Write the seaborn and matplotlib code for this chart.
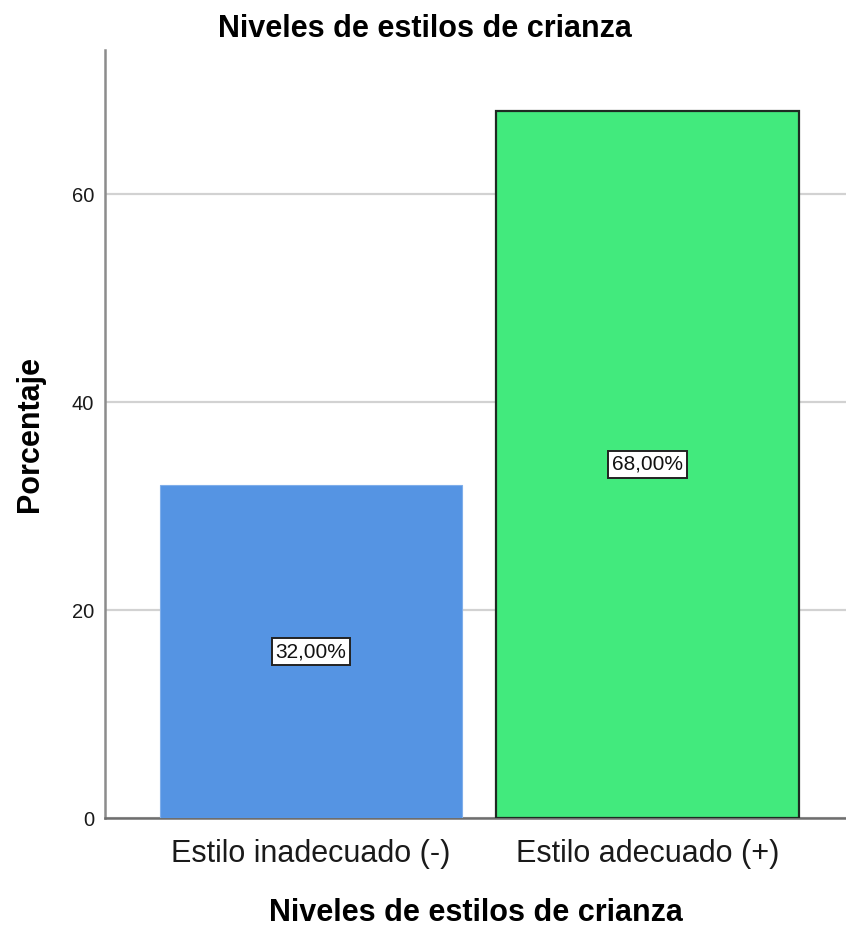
import matplotlib
matplotlib.use("Agg")
import matplotlib.pyplot as plt
import seaborn as sns
import pandas as pd

categories = ["Estilo inadecuado (-)", "Estilo adecuado (+)"]
values = [32.0, 68.0]
bar_labels = ["32,00%", "68,00%"]
yticks = [0, 20, 40, 60]
colors = ["#5594E3", "#42EA7D"]
edge_colors = ["#7FAEEA", "#1E2A22"]

sns.set_style("white")
plt.rcParams["font.family"] = ["Liberation Sans", "DejaVu Sans"]
plt.rcParams["text.color"] = "black"
plt.rcParams["axes.labelcolor"] = "black"

df = pd.DataFrame({"cat": categories, "val": values})

fig = plt.figure(figsize=(8.46, 9.30), dpi=100)
ax = fig.add_axes([105 / 846, 1 - 818 / 930, 741 / 846, 768 / 930])

sns.barplot(data=df, x="cat", y="val", hue="cat", palette=colors,
            width=0.9, legend=False, ax=ax, saturation=1, zorder=3)

for patch, ec, lw in zip(ax.patches, edge_colors, [0.8, 1.6]):
    patch.set_edgecolor(ec)
    patch.set_linewidth(lw)

for cont, lab in zip(ax.containers, bar_labels):
    ax.bar_label(cont, labels=[lab], label_type="center", fontsize=15,
                 color="#111111", zorder=5,
                 bbox=dict(boxstyle="square,pad=0.18", facecolor="white",
                           edgecolor="#222222", linewidth=1.4))

ax.set_xlim(-0.612, 1.59)
ax.set_ylim(0, 73.85)
ax.set_yticks(yticks)
ax.set_yticklabels([str(t) for t in yticks], fontsize=14.5, color="#1A1A1A")
ax.tick_params(axis="y", length=0, pad=8)
ax.tick_params(axis="x", length=0, pad=15, labelsize=22, labelcolor="#1A1A1A")

ax.yaxis.grid(True, color="#D2D2D2", linewidth=1.6, zorder=0)
ax.xaxis.grid(False)
ax.set_axisbelow(True)

for side in ["top", "right"]:
    ax.spines[side].set_visible(False)
ax.spines["left"].set_color("#8C8C8C")
ax.spines["left"].set_linewidth(1.8)
ax.spines["bottom"].set_color("#6E6E6E")
ax.spines["bottom"].set_linewidth(1.8)

ax.set_xlabel("Niveles de estilos de crianza", fontsize=22, fontweight="bold",
              color="black")
ax.xaxis.label.set_va("center")
ax.xaxis.set_label_coords(0.5, (818 - 913) / 768)

ax.set_ylabel("Porcentaje", fontsize=22, fontweight="bold", color="black")
ax.yaxis.label.set_rotation_mode("default")
ax.yaxis.label.set_va("center")
ax.yaxis.set_label_coords((30 - 105) / 741, 0.5)

ax.set_title("Niveles de estilos de crianza", fontsize=22, fontweight="bold",
             color="black", x=(425 - 105) / 741, y=(818 - 29) / 768,
             va="center", pad=0)

fig.savefig("out.png", dpi=100, facecolor="white")
